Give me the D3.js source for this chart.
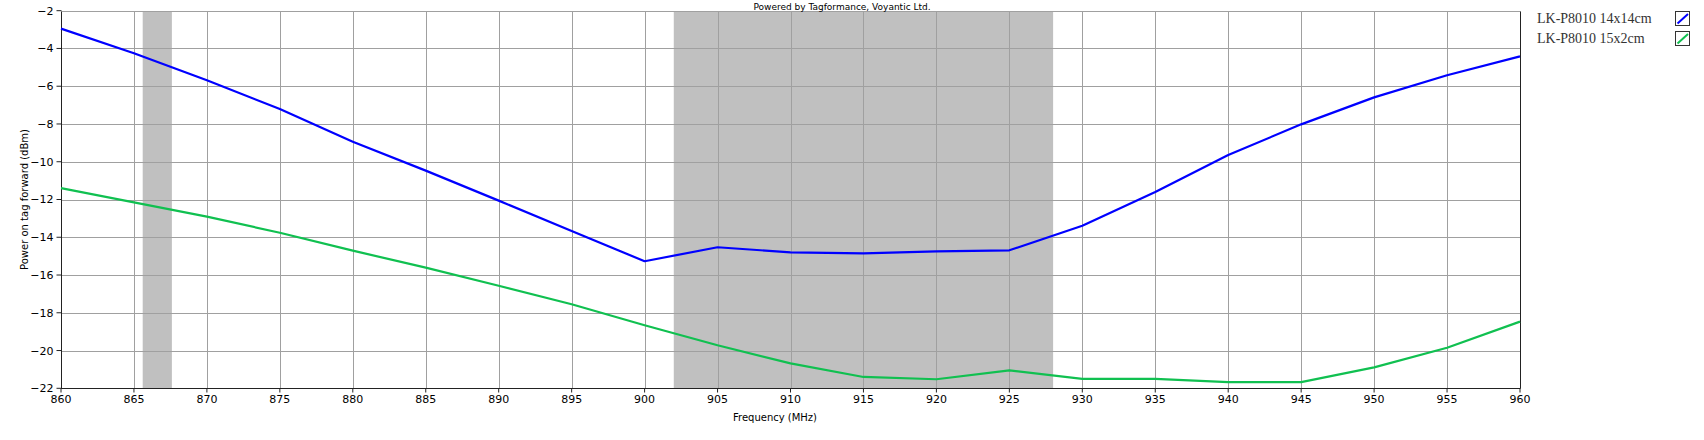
<!DOCTYPE html>
<html>
<head>
<meta charset="utf-8">
<script src="https://cdn.jsdelivr.net/npm/d3@7"></script>
<style>
  html, body { margin: 0; padding: 0; background: #fff; }
  svg { display: block; }
</style>
</head>
<body>
<svg id="chart" width="1704" height="440"></svg>
<script>
// ---- data ----
const frequencies = [860, 865, 870, 875, 880, 885, 890, 895, 900, 905, 910, 915, 920, 925, 930, 935, 940, 945, 950, 955, 960];
const series14x14 = [-2.95, -4.25, -5.68, -7.21, -8.94, -10.47, -12.06, -13.67, -15.27, -14.53, -14.8, -14.85, -14.75, -14.69, -13.39, -11.6, -9.64, -8.02, -6.59, -5.42, -4.42];
const series15x2 = [-11.4, -12.15, -12.91, -13.76, -14.71, -15.61, -16.57, -17.55, -18.66, -19.72, -20.68, -21.4, -21.52, -21.05, -21.5, -21.5, -21.67, -21.67, -20.89, -19.85, -18.47];
const seriesNames = ["LK-P8010 14x14cm", "LK-P8010 15x2cm"];
const seriesColors = ["#0000ff", "#10c050"];
const bands = [[865.6, 867.6], [902, 928]];
const xTicks = [860, 865, 870, 875, 880, 885, 890, 895, 900, 905, 910, 915, 920, 925, 930, 935, 940, 945, 950, 955, 960];
const yTicks = [-2, -4, -6, -8, -10, -12, -14, -16, -18, -20, -22];
const titleText = "Powered by Tagformance, Voyantic Ltd.";
const xLabel = "Frequency (MHz)";
const yLabel = "Power on tag forward (dBm)";

// ---- layout ----
const L = 61, R = 1520, T = 10.7, B = 388.3;
const svg = d3.select("#chart");
const x = d3.scaleLinear().domain([860, 960]).range([L, R]);
const y = d3.scaleLinear().domain([-22, -2]).range([B, T]);
const px = v => Math.round(v) + 0.5;

const font = "'DejaVu Sans', Verdana, sans-serif";

// shaded bands
svg.append("g").selectAll("rect").data(bands).join("rect")
  .attr("x", d => x(d[0])).attr("width", d => x(d[1]) - x(d[0]))
  .attr("y", px(y(-2))).attr("height", px(y(-22)) - px(y(-2)))
  .attr("fill", "#c0c0c0");

// grid
const grid = svg.append("g").attr("stroke", "#a0a0a0").attr("stroke-width", 1);
grid.selectAll("line.v").data(xTicks.slice(1, -1)).join("line").attr("class", "v")
  .attr("x1", d => px(x(d))).attr("x2", d => px(x(d)))
  .attr("y1", px(y(-2))).attr("y2", px(y(-22)));
grid.selectAll("line.h").data(yTicks).join("line").attr("class", "h")
  .attr("x1", px(x(860))).attr("x2", px(x(960)))
  .attr("y1", d => px(y(d))).attr("y2", d => px(y(d)));

// right border dark
svg.append("line").attr("x1", px(x(960))).attr("x2", px(x(960)))
  .attr("y1", px(y(-2))).attr("y2", px(y(-22))).attr("stroke", "#222");

// axes
const yAxis = svg.append("g").attr("transform", `translate(${px(x(860))},0)`)
  .call(d3.axisLeft(y).tickValues(yTicks).tickSize(5).tickPadding(3).offset(0));
const xAxis = svg.append("g").attr("transform", `translate(0,${px(y(-22))})`)
  .call(d3.axisBottom(x).tickValues(xTicks).tickSize(4).tickPadding(3).offset(0));
[yAxis, xAxis].forEach(a => {
  a.select(".domain").attr("stroke", "#222");
  a.selectAll(".tick line").attr("stroke", "#222");
  a.selectAll(".tick text").attr("fill", "#000").style("font-family", font).style("font-size", "11px");
});
yAxis.selectAll(".tick text").attr("dy", "0.36em");
yAxis.select(".domain").attr("d", `M0,${px(y(-2))}V${px(y(-22))}`);
xAxis.select(".domain").attr("d", `M${px(x(860))-0.5},0H${px(x(960))}`);

// lines
const allSeries = [series14x14, series15x2];
const line = d3.line().x((d, i) => x(frequencies[i])).y(d => y(d));
svg.append("g").selectAll("path").data(allSeries).join("path")
  .attr("d", d => line(d))
  .attr("fill", "none")
  .attr("stroke", (d, i) => seriesColors[i])
  .attr("stroke-width", 2.2)
  .attr("stroke-linejoin", "round");

// title
svg.append("text").attr("x", 842).attr("y", 9.5).attr("text-anchor", "middle")
  .style("font-family", font).style("font-size", "9px").attr("fill", "#000").text(titleText);

// axis labels
svg.append("text").attr("x", 775).attr("y", 421).attr("text-anchor", "middle")
  .style("font-family", font).style("font-size", "10px").attr("fill", "#000").text(xLabel);
svg.append("text").attr("transform", `translate(28,${(T + B) / 2}) rotate(-90)`).attr("text-anchor", "middle")
  .style("font-family", font).style("font-size", "10px").attr("fill", "#000").text(yLabel);

// legend
const leg = svg.append("g").selectAll("g").data(seriesNames).join("g")
  .attr("transform", (d, i) => `translate(0,${i * 20})`);
leg.append("text").attr("x", 1537).attr("y", 23)
  .style("font-family", "'Liberation Serif', 'Times New Roman', serif").style("font-size", "14px")
  .attr("fill", "#333").text(d => d);
leg.append("rect").attr("x", 1675.5).attr("y", 11.5).attr("width", 14).attr("height", 14)
  .attr("fill", "#fff").attr("stroke", "#333").attr("stroke-width", 1);
leg.append("line").attr("x1", 1677.5).attr("y1", 23.5).attr("x2", 1688).attr("y2", 14)
  .attr("stroke", (d, i) => seriesColors[i]).attr("stroke-width", 2);
</script>
</body>
</html>
